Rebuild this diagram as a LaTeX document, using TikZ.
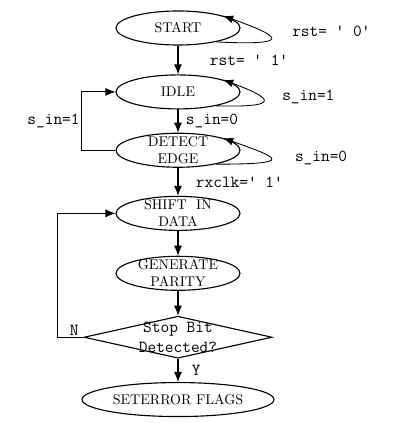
\documentclass[tikz,border=0pt]{standalone}
\usetikzlibrary{arrows.meta,positioning,shapes.geometric}

\begin{document}
\begin{tikzpicture}[
  node distance=0.6cm,
  state/.style={ellipse, draw, thick, align=center, font=\normalsize, inner xsep=0pt, inner ysep=-2.5pt, minimum width=3.1cm, minimum height=0.85cm},
  decision/.style={diamond, draw, thick, align=center, font=\ttfamily\large, shape aspect=4.5, inner xsep=0pt, inner ysep=-4pt, minimum width=4.7cm, minimum height=1.05cm},
  lbl/.style={font=\ttfamily\large, inner sep=1pt},
  arrow/.style={-{Latex[length=2.5mm,width=2mm]}, thick},
  selfloop/.style={-{Latex[length=2.5mm,width=2mm]}, semithick}
]
\useasboundingbox (-4.45,0.7) rectangle (5.775,-9.875);
\node[state] (start) {START};
\node[state, below=0.72cm of start] (idle) {IDLE};
\node[state, below=0.58cm of idle] (detect) {DETECT\\EDGE};
\node[state, below=0.7cm of detect] (shift) {SHIFT\ \ IN\\DATA};
\node[state, below=0.62cm of shift] (parity) {GENERATE\\PARITY};
\node[decision, below=0.62cm of parity] (stopbit) {Stop Bit\\Detected?};
\node[state, below=0.58cm of stopbit, minimum width=4.8cm] (flags) {SETERROR FLAGS};
% self loops
\draw[selfloop] (start.-20) .. controls +(2,-0.1) and +(1.4,-0.5) .. (start.15);
\draw[selfloop] (idle.-20) .. controls +(1.7,-0.05) and +(1.2,-0.45) .. (idle.15);
\draw[selfloop] (detect.-20) .. controls +(2,0) and +(1.4,-0.5) .. (detect.15);
\node[lbl, right=1.25cm of start.east, yshift=-0.08cm] (rst0) {rst= ' 0'};
\node[lbl, right=1.0cm of idle.east, yshift=-0.12cm] (sin1) {s\_in=1};
\node[lbl, right=1.32cm of detect.east, yshift=-0.18cm] (sin0) {s\_in=0};
% main flow
\draw[arrow] (start) -- node[lbl, right=0.75cm] (rst1) {rst= ' 1'} (idle);
\draw[arrow] (idle) -- node[lbl, right=0.15cm] (sin0b) {s\_in=0} (detect);
\draw[arrow] (detect) -- node[lbl, right=0.4cm] (rxclk) {rxclk=' 1'} (shift);
\draw[arrow] (shift) -- (parity);
\draw[arrow] (parity) -- (stopbit);
\draw[arrow] (stopbit) -- node[lbl, right=0.3cm] (yes) {Y} (flags);
% back edges
\draw[selfloop] (detect.west) -- ++(-0.85,0) |- node[lbl, pos=0.25, left] (sin1b) {s\_in=1} (idle.west);
\draw[selfloop] (stopbit.west) -- node[lbl, above, pos=0.35] (no) {N} ++(-0.65,0) |- (shift.west);
\end{tikzpicture}
\end{document}
